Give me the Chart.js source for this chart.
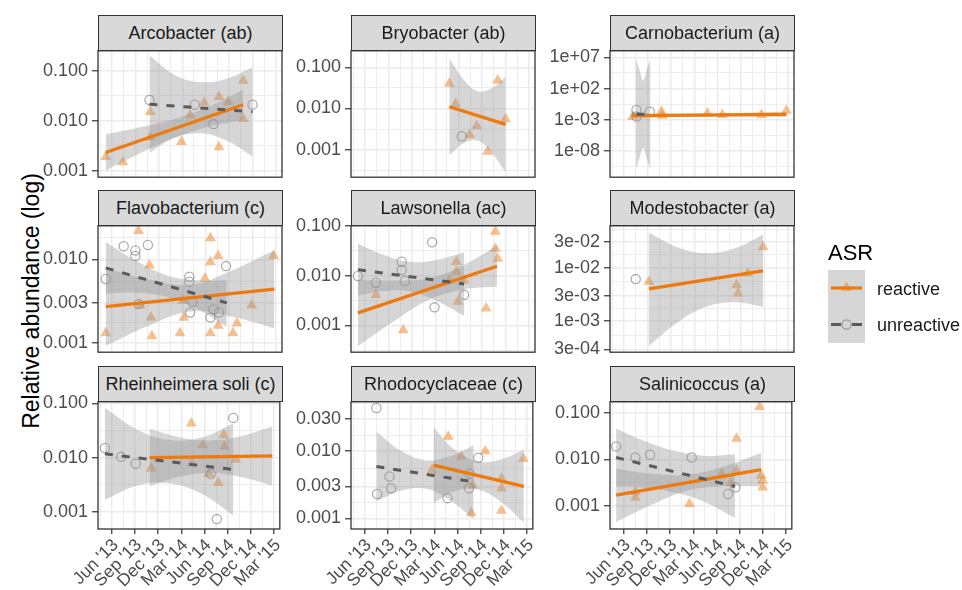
<!DOCTYPE html>
<html><head><meta charset="utf-8">
<script src="https://cdn.jsdelivr.net/npm/chart.js@4.4.1/dist/chart.umd.min.js"></script>
<style>
html,body{margin:0;padding:0;background:#fff;}
body{width:962px;height:590px;overflow:hidden;position:relative;font-family:"Liberation Sans",Arial,Helvetica,sans-serif;}
.strip{position:absolute;background:#D9D9D9;border:1.2px solid #333;box-sizing:border-box;color:#1A1A1A;font-size:18px;display:flex;align-items:center;justify-content:center;white-space:nowrap;z-index:2;}
.ytitle{position:absolute;font-size:23px;color:#000;white-space:nowrap;transform:translate(-50%,-50%) rotate(-90deg);left:31px;top:301px;}
</style></head><body>
<script>
// ---- facets ----
const taxa = ['Arcobacter (ab)','Bryobacter (ab)','Carnobacterium (a)','Flavobacterium (c)','Lawsonella (ac)','Modestobacter (a)','Rheinheimera soli (c)','Rhodocyclaceae (c)','Salinicoccus (a)'];
const seriesNames = ['reactive','unreactive'];

// x: months since Jan 2013 (5 = Jun '13)
const xTickMonths = [5, 8, 11, 14, 17, 20, 23, 26];
const xTickLabels = ["Jun '13","Sep '13","Dec '13","Mar '14","Jun '14","Sep '14","Dec '14","Mar '15"];
const xRange = [3.21, 26.77];

// ---- Arcobacter ----
const arcoYTicks = [0.1, 0.01, 0.001];
const arcoYLabels = ['0.100','0.010','0.001'];
const arcoYRange = [0.00075, 0.2489];
const arcoReactive = [[4.2,0.0019],[6.4,0.0015],[9.9,0.015],[9.9,0.0047],[13.9,0.0038],[15.0,0.013],[16.8,0.023],[18.7,0.030],[18.7,0.0030],[19.9,0.024],[21.8,0.063],[21.8,0.011]];
const arcoUnreactive = [[9.8,0.026],[15.6,0.021],[18.0,0.0086],[23.0,0.021]];
const arcoReactiveFit = [[4.2,0.00234],[21.8,0.0209]];
const arcoUnreactiveFit = [[9.8,0.0214],[23.0,0.0151]];
const arcoReactiveBand = [[4.2,0.00102,0.00537],[8.6,0.00224,0.00741],[13.0,0.00452,0.01084],[17.4,0.00759,0.0191],[21.8,0.01047,0.0417]];
const arcoUnreactiveBand = [[9.8,0.00229,0.1995],[13.1,0.00468,0.0813],[16.4,0.00562,0.0589],[19.7,0.00398,0.0692],[23.0,0.00195,0.1175]];

// ---- Bryobacter ----
const bryoYTicks = [0.1, 0.01, 0.001];
const bryoYLabels = ['0.100','0.010','0.001'];
const bryoYRange = [0.000214, 0.2512];
const bryoReactive = [[15.8,0.040],[16.6,0.013],[19.3,0.0038],[18.4,0.0023],[20.7,0.0009],[22.0,0.048],[23.0,0.0055]];
const bryoUnreactive = [[17.4,0.0021]];
const bryoReactiveFit = [[15.8,0.011],[23.0,0.0041]];
const bryoUnreactiveFit = [];
const bryoReactiveBand = [[15.8,0.00072,0.166],[17.6,0.00141,0.0513],[19.4,0.00166,0.0263],[21.2,0.00085,0.0309],[23.0,0.00028,0.0589]];
const bryoUnreactiveBand = [];

// ---- Carnobacterium ----
const carnoYTicks = [1e7, 1e2, 1e-3, 1e-8];
const carnoYLabels = ['1e+07','1e+02','1e-03','1e-08'];
const carnoYRange = [6.9e-13, 1.12e8];
const carnoReactive = [[6.1,0.0034],[9.8,0.021],[9.9,0.005],[15.7,0.0115],[17.6,0.0063],[22.6,0.0063],[25.8,0.0295]];
const carnoUnreactive = [[6.6,0.038],[8.3,0.021],[6.6,0.0034]];
const carnoReactiveFit = [[6.1,0.0048],[25.8,0.0079]];
const carnoUnreactiveFit = [[6.6,0.008],[8.3,0.008]];
const carnoReactiveBand = [[6.1,0.0019,0.012],[11.0,0.0027,0.0095],[16.0,0.0036,0.0105],[21.0,0.0034,0.014],[25.8,0.0028,0.022]];
const carnoUnreactiveBand = [[6.5,1e-11,6.3e6],[6.95,5e-10,1.5e5],[7.45,3.2e-8,2000],[7.95,5e-10,1.5e5],[8.4,1e-11,6.3e6]];

// ---- Flavobacterium ----
const flavoYTicks = [0.01, 0.003, 0.001];
const flavoYLabels = ['0.010','0.003','0.001'];
const flavoYRange = [0.000767, 0.0253];
const flavoReactive = [[4.2,0.0013],[8.4,0.022],[9.8,0.0085],[8.6,0.0028],[10.0,0.002],[10.1,0.0012],[13.7,0.0013],[14.2,0.002],[14.05,0.0032],[16.9,0.0059],[17.6,0.018],[18.6,0.011],[17.6,0.0093],[17.6,0.0013],[18.6,0.0016],[20.5,0.0013],[21.0,0.0017],[22.9,0.0028],[25.7,0.011]];
const flavoUnreactive = [[4.2,0.0058],[6.5,0.0144],[8.0,0.0128],[8.0,0.011],[9.6,0.0149],[8.4,0.0029],[14.9,0.0062],[14.9,0.0054],[15.3,0.0031],[15.0,0.0023],[17.6,0.0020],[18.0,0.0025],[18.7,0.0023],[19.6,0.0083]];
const flavoReactiveFit = [[4.2,0.0027],[25.8,0.0044]];
const flavoUnreactiveFit = [[4.2,0.0079],[19.7,0.0030]];
const flavoReactiveBand = [[4.2,0.00091,0.0079],[9.6,0.00158,0.00575],[15.0,0.00237,0.00495],[20.4,0.00204,0.00741],[25.8,0.00148,0.0129]];
const flavoUnreactiveBand = [[4.2,0.00389,0.0162],[8.1,0.00398,0.00955],[12.0,0.00355,0.00646],[15.8,0.00257,0.00562],[19.7,0.00155,0.00562]];

// ---- Lawsonella ----
const lawsYTicks = [0.1, 0.01, 0.001];
const lawsYLabels = ['0.100','0.010','0.001'];
const lawsYRange = [0.000288, 0.1005];
const lawsReactive = [[6.4,0.0041],[9.9,0.0008],[16.7,0.019],[16.7,0.012],[15.8,0.008],[17.7,0.008],[16.9,0.003],[20.5,0.0022],[21.7,0.077],[21.7,0.035],[22.0,0.022]];
const lawsUnreactive = [[4.1,0.0098],[6.4,0.0072],[9.7,0.019],[9.7,0.013],[10.1,0.0078],[13.6,0.047],[13.9,0.0023],[17.7,0.0041]];
const lawsReactiveFit = [[4.1,0.00178],[21.9,0.0155]];
const lawsUnreactiveFit = [[4.1,0.0132],[17.7,0.0068]];
const lawsReactiveBand = [[4.1,0.00038,0.0083],[8.55,0.00116,0.0080],[13.0,0.00316,0.0087],[17.45,0.00519,0.0157],[21.9,0.00603,0.0398]];
const lawsUnreactiveBand = [[4.1,0.00398,0.0437],[7.5,0.0049,0.0257],[10.9,0.00473,0.0188],[14.3,0.00302,0.0209],[17.7,0.00155,0.0295]];

// ---- Modestobacter ----
const modeYTicks = [0.03, 0.01, 0.003, 0.001, 0.0003];
const modeYLabels = ['3e-02','1e-02','3e-03','1e-03','3e-04'];
const modeYRange = [0.000265, 0.060];
const modeReactive = [[8.2,0.0055],[19.4,0.0047],[19.6,0.0033],[20.85,0.0078],[22.8,0.024]];
const modeUnreactive = [[6.5,0.0061]];
const modeReactiveFit = [[8.2,0.0040],[22.8,0.0087]];
const modeUnreactiveFit = [];
const modeReactiveBand = [[8.2,0.000347,0.0447],[11.85,0.00095,0.024],[15.5,0.00186,0.0186],[19.15,0.00226,0.0226],[22.8,0.00186,0.0407]];
const modeUnreactiveBand = [];

// ---- Rheinheimera soli ----
const rheiYTicks = [0.1, 0.01, 0.001];
const rheiYLabels = ['0.100','0.010','0.001'];
const rheiYRange = [0.000479, 0.107];
const rheiReactive = [[10.1,0.0063],[15.3,0.043],[15.4,0.0077],[16.8,0.017],[19.5,0.026],[19.6,0.016],[18.8,0.0034],[21.05,0.0092],[17.6,0.005]];
const rheiUnreactive = [[4.1,0.015],[6.2,0.0103],[8.1,0.0077],[17.8,0.005],[18.6,0.00073],[20.75,0.054]];
const rheiReactiveFit = [[9.9,0.0100],[25.8,0.0107]];
const rheiUnreactiveFit = [[4.1,0.0117],[20.75,0.0060]];
const rheiReactiveBand = [[9.9,0.00295,0.0339],[13.9,0.00447,0.0234],[17.85,0.00519,0.0207],[21.8,0.00437,0.0251],[25.8,0.00302,0.038]];
const rheiUnreactiveBand = [[4.1,0.00166,0.0832],[8.25,0.00302,0.0331],[12.4,0.00335,0.0211],[16.6,0.00214,0.0234],[20.75,0.00085,0.0427]];

// ---- Rhodocyclaceae ----
const rhodoYTicks = [0.03, 0.01, 0.003, 0.001];
const rhodoYLabels = ['0.030','0.010','0.003','0.001'];
const rhodoYRange = [0.000695, 0.0543];
const rhodoReactive = [[13.7,0.0052],[15.8,0.0165],[17.5,0.0084],[18.8,0.0012],[19.0,0.0031],[20.6,0.010],[22.7,0.0039],[22.7,0.0028],[22.7,0.0013],[25.55,0.0077]];
const rhodoUnreactive = [[6.5,0.044],[6.6,0.0023],[8.2,0.0042],[8.4,0.0028],[15.7,0.0020],[18.6,0.0046],[18.5,0.0028],[19.7,0.0080]];
const rhodoReactiveFit = [[13.9,0.0062],[25.6,0.0030]];
const rhodoUnreactiveFit = [[6.5,0.0059],[19.1,0.0035]];
const rhodoReactiveBand = [[13.9,0.00168,0.0226],[16.8,0.00257,0.0102],[19.75,0.00266,0.0070],[22.7,0.00174,0.00759],[25.6,0.00087,0.0105]];
const rhodoUnreactiveBand = [[6.5,0.00178,0.0195],[9.65,0.00257,0.0102],[12.8,0.00279,0.00733],[15.95,0.0019,0.0083],[19.1,0.00098,0.0123]];

// ---- Salinicoccus ----
const saliYTicks = [0.1, 0.01, 0.001];
const saliYLabels = ['0.100','0.010','0.001'];
const saliYRange = [0.000316, 0.1746];
const saliReactive = [[6.5,0.0015],[6.5,0.0020],[13.5,0.0011],[17.7,0.0049],[19.6,0.028],[19.6,0.0058],[18.9,0.0031],[22.6,0.136],[22.8,0.0045],[23.0,0.0035],[23.0,0.0025]];
const saliUnreactive = [[4.0,0.019],[6.5,0.011],[8.4,0.0126],[13.8,0.011],[18.5,0.0018],[19.45,0.0025]];
const saliReactiveFit = [[4.0,0.0017],[22.8,0.0060]];
const saliUnreactiveFit = [[4.0,0.0110],[19.4,0.0026]];
const saliReactiveBand = [[4.0,0.00045,0.0063],[8.7,0.00107,0.0049],[13.4,0.00216,0.00473],[18.1,0.00263,0.00724],[22.8,0.00263,0.0138]];
const saliUnreactiveBand = [[4.0,0.00257,0.0457],[7.85,0.00243,0.0243],[11.7,0.0019,0.0151],[15.55,0.00119,0.0119],[19.4,0.00054,0.0129]];

// ---- table for the library ----
const panels = [
 {name:taxa[0], yTicks:arcoYTicks, yLabels:arcoYLabels, yRange:arcoYRange, r:arcoReactive, u:arcoUnreactive, rFit:arcoReactiveFit, uFit:arcoUnreactiveFit, rBand:arcoReactiveBand, uBand:arcoUnreactiveBand},
 {name:taxa[1], yTicks:bryoYTicks, yLabels:bryoYLabels, yRange:bryoYRange, r:bryoReactive, u:bryoUnreactive, rFit:bryoReactiveFit, uFit:bryoUnreactiveFit, rBand:bryoReactiveBand, uBand:bryoUnreactiveBand},
 {name:taxa[2], yTicks:carnoYTicks, yLabels:carnoYLabels, yRange:carnoYRange, r:carnoReactive, u:carnoUnreactive, rFit:carnoReactiveFit, uFit:carnoUnreactiveFit, rBand:carnoReactiveBand, uBand:carnoUnreactiveBand},
 {name:taxa[3], yTicks:flavoYTicks, yLabels:flavoYLabels, yRange:flavoYRange, r:flavoReactive, u:flavoUnreactive, rFit:flavoReactiveFit, uFit:flavoUnreactiveFit, rBand:flavoReactiveBand, uBand:flavoUnreactiveBand},
 {name:taxa[4], yTicks:lawsYTicks, yLabels:lawsYLabels, yRange:lawsYRange, r:lawsReactive, u:lawsUnreactive, rFit:lawsReactiveFit, uFit:lawsUnreactiveFit, rBand:lawsReactiveBand, uBand:lawsUnreactiveBand},
 {name:taxa[5], yTicks:modeYTicks, yLabels:modeYLabels, yRange:modeYRange, r:modeReactive, u:modeUnreactive, rFit:modeReactiveFit, uFit:modeUnreactiveFit, rBand:modeReactiveBand, uBand:modeUnreactiveBand},
 {name:taxa[6], yTicks:rheiYTicks, yLabels:rheiYLabels, yRange:rheiYRange, r:rheiReactive, u:rheiUnreactive, rFit:rheiReactiveFit, uFit:rheiUnreactiveFit, rBand:rheiReactiveBand, uBand:rheiUnreactiveBand},
 {name:taxa[7], yTicks:rhodoYTicks, yLabels:rhodoYLabels, yRange:rhodoYRange, r:rhodoReactive, u:rhodoUnreactive, rFit:rhodoReactiveFit, uFit:rhodoUnreactiveFit, rBand:rhodoReactiveBand, uBand:rhodoUnreactiveBand},
 {name:taxa[8], yTicks:saliYTicks, yLabels:saliYLabels, yRange:saliYRange, r:saliReactive, u:saliUnreactive, rFit:saliReactiveFit, uFit:saliUnreactiveFit, rBand:saliReactiveBand, uBand:saliUnreactiveBand}
];

// ---- layout / style ----
const COL_LEFT = [98, 351, 610];
const ROW_TOP = [50, 225, 401];
const PW = 184, PH = 128, STRIP_H = 35;
const ORANGE = '#EE7A0E';
const TRI_FILL = 'rgba(240,128,30,0.5)';
const CIRC_LINE = 'rgba(105,105,105,0.55)';
const DASH_COL = '#5A5A5A';
const RIBBON = 'rgba(153,153,153,0.4)';
const GRID = '#EBEBEB';

Chart.defaults.font.family = '"Liberation Sans", Arial, Helvetica, sans-serif';
Chart.defaults.font.size = 18;
Chart.defaults.color = '#4D4D4D';

const xMinor = [];
for (let i = 0; i < xTickMonths.length; i++) {
  const a = xTickMonths[i], b = i + 1 < xTickMonths.length ? xTickMonths[i+1] : a + 3;
  if (i === 0) xMinor.push(a - 1.5);
  xMinor.push((a + b) / 2);
}
const xAll = xTickMonths.concat(xMinor.filter(v => v > xRange[0] && v < xRange[1])).sort((a,b)=>a-b);
const xLabelOf = v => { const i = xTickMonths.indexOf(v); return i >= 0 ? xTickLabels[i] : ''; };
const isXMajor = v => xTickMonths.indexOf(v) >= 0;

function yMinors(ticks, range) {
  const L = ticks.map(Math.log10).sort((a,b)=>a-b);
  const out = [];
  const ext = [L[0] - (L[1] - L[0])].concat(L, [L[L.length-1] + (L[L.length-1] - L[L.length-2])]);
  for (let i = 0; i < ext.length - 1; i++) out.push(Math.pow(10, (ext[i] + ext[i+1]) / 2));
  return out.filter(v => v > range[0] && v < range[1]);
}

const toXY = arr => arr.map(p => ({x: p[0], y: p[1]}));

const borderPlugin = {
  id: 'panelBorder',
  afterDraw(chart) {
    const {ctx, chartArea: a} = chart;
    ctx.save();
    ctx.strokeStyle = '#333333';
    ctx.lineWidth = 1.3;
    ctx.strokeRect(a.left, a.top, a.right - a.left, a.bottom - a.top);
    ctx.restore();
  }
};

function buildPanel(p, idx) {
  const col = idx % 3, row = Math.floor(idx / 3);
  const bottom = row === 2;
  const AX = 92, PT = 14, PR = 8, PB = bottom ? 80 : 14;
  const W = AX + PW + PR, H = PT + PH + PB;
  const left = COL_LEFT[col], top = ROW_TOP[row];

  const strip = document.createElement('div');
  strip.className = 'strip';
  strip.style.left = left + 'px';
  strip.style.top = (top - STRIP_H) + 'px';
  strip.style.width = (PW + 1) + 'px';
  strip.style.height = (STRIP_H + 1) + 'px';
  strip.textContent = p.name;
  document.body.appendChild(strip);

  const wrap = document.createElement('div');
  wrap.style.cssText = `position:absolute;left:${left - AX}px;top:${top - PT}px;width:${W}px;height:${H}px;z-index:1;`;
  const cv = document.createElement('canvas');
  cv.width = W; cv.height = H;
  cv.style.width = W + 'px'; cv.style.height = H + 'px';
  wrap.appendChild(cv);
  document.body.appendChild(wrap);

  const yMin = yMinors(p.yTicks, p.yRange);
  const yAll = p.yTicks.filter(v => v >= p.yRange[0] && v <= p.yRange[1]).concat(yMin).sort((a,b)=>a-b);
  const yLabelOf = v => { const i = p.yTicks.indexOf(v); return i >= 0 ? p.yLabels[i] : ''; };
  const isYMajor = v => p.yTicks.indexOf(v) >= 0;

  const ds = [];
  if (p.uFit.length) ds.push({data: toXY(p.uFit), borderColor: DASH_COL, borderWidth: 3, borderDash: [8, 9], pointRadius: 0, fill: false, order: 0});
  if (p.rFit.length) ds.push({data: toXY(p.rFit), borderColor: ORANGE, borderWidth: 3.2, pointRadius: 0, fill: false, order: 1});
  const addBand = (band, order) => {
    if (!band.length) return;
    ds.push({data: band.map(b => ({x: b[0], y: b[2]})), borderColor: 'rgba(0,0,0,0)', borderWidth: 1, pointRadius: 0, fill: false, tension: 0.4, order});
    ds.push({data: band.map(b => ({x: b[0], y: b[1]})), borderColor: 'rgba(0,0,0,0)', borderWidth: 1, pointRadius: 0, fill: '-1', backgroundColor: RIBBON, tension: 0.4, order});
  };
  addBand(p.uBand, 2);
  addBand(p.rBand, 3);
  if (p.u.length) ds.push({data: toXY(p.u), showLine: false, pointStyle: 'circle', pointRadius: 4.6, pointBackgroundColor: 'rgba(0,0,0,0)', pointBorderColor: CIRC_LINE, pointBorderWidth: 1.3, order: 4});
  if (p.r.length) ds.push({data: toXY(p.r), showLine: false, pointStyle: 'triangle', pointRadius: 6.3, pointBackgroundColor: TRI_FILL, pointBorderColor: 'rgba(0,0,0,0)', pointBorderWidth: 0, order: 5});

  new Chart(cv, {
    type: 'line',
    data: {datasets: ds},
    options: {
      responsive: false, animation: false, events: [],
      layout: {padding: {left: 0, top: PT, right: PR, bottom: bottom ? 0 : PB}},
      plugins: {legend: {display: false}, tooltip: {enabled: false}},
      scales: {
        x: {
          type: 'linear', min: xRange[0], max: xRange[1], bounds: 'data',
          afterBuildTicks: sc => { sc.ticks = xAll.map(v => ({value: v})); },
          afterFit: sc => { sc.height = bottom ? PB : 0; },
          border: {display: false},
          grid: {
            color: GRID,
            lineWidth: c => (c.tick && isXMajor(c.tick.value)) ? 1.5 : 0.9,
            drawTicks: bottom, tickLength: 5, tickWidth: 1.2,
            tickColor: c => (c.tick && isXMajor(c.tick.value)) ? '#333333' : 'rgba(0,0,0,0)'
          },
          ticks: {display: bottom, autoSkip: false, minRotation: 45, maxRotation: 45, padding: 1, labelOffset: 4, color: '#4D4D4D', font: {size: 17.5}, callback: v => xLabelOf(v)}
        },
        y: {
          type: 'logarithmic', min: p.yRange[0], max: p.yRange[1], bounds: 'data',
          afterBuildTicks: sc => { sc.ticks = yAll.map(v => ({value: v})); },
          afterFit: sc => { sc.width = AX; },
          border: {display: false},
          grid: {
            color: GRID,
            lineWidth: c => (c.tick && isYMajor(c.tick.value)) ? 1.5 : 0.9,
            drawTicks: true, tickLength: 6, tickWidth: 1.2,
            tickColor: c => (c.tick && isYMajor(c.tick.value)) ? '#333333' : 'rgba(0,0,0,0)'
          },
          ticks: {autoSkip: false, padding: 4, color: '#4D4D4D', font: {size: 18}, callback: v => yLabelOf(v)}
        }
      }
    },
    plugins: [borderPlugin]
  });
}

panels.forEach(buildPanel);

// axis title
const yt = document.createElement('div');
yt.className = 'ytitle';
yt.textContent = 'Relative abundance (log)';
document.body.appendChild(yt);

// legend
const NS = 'http://www.w3.org/2000/svg';
const svg = document.createElementNS(NS, 'svg');
svg.setAttribute('width', 962); svg.setAttribute('height', 590);
svg.style.cssText = 'position:absolute;left:0;top:0;z-index:3;pointer-events:none;';
const el = (tag, attrs, text) => { const e = document.createElementNS(NS, tag); for (const k in attrs) e.setAttribute(k, attrs[k]); if (text) e.textContent = text; svg.appendChild(e); return e; };
el('text', {x: 828, y: 252, 'font-size': 22, fill: '#000', 'dominant-baseline': 'central', 'font-family': 'Liberation Sans, Arial, sans-serif'}, 'ASR');
el('rect', {x: 828, y: 270, width: 37, height: 73, fill: '#D6D6D6'});
el('path', {d: 'M846.5,281.4 L851.96,290.85 L841.04,290.85 Z', fill: TRI_FILL});
el('line', {x1: 831, x2: 862, y1: 288, y2: 288, stroke: ORANGE, 'stroke-width': 3.2});
el('line', {x1: 831, x2: 862, y1: 324.5, y2: 324.5, stroke: DASH_COL, 'stroke-width': 3, 'stroke-dasharray': '10 11'});
el('circle', {cx: 846.5, cy: 324.5, r: 4.6, fill: 'none', stroke: CIRC_LINE, 'stroke-width': 1.3});
el('text', {x: 877, y: 289, 'font-size': 18, fill: '#1A1A1A', 'dominant-baseline': 'central', 'font-family': 'Liberation Sans, Arial, sans-serif'}, seriesNames[0]);
el('text', {x: 877, y: 325, 'font-size': 18, fill: '#1A1A1A', 'dominant-baseline': 'central', 'font-family': 'Liberation Sans, Arial, sans-serif'}, seriesNames[1]);
document.body.appendChild(svg);
</script>
</body></html>
